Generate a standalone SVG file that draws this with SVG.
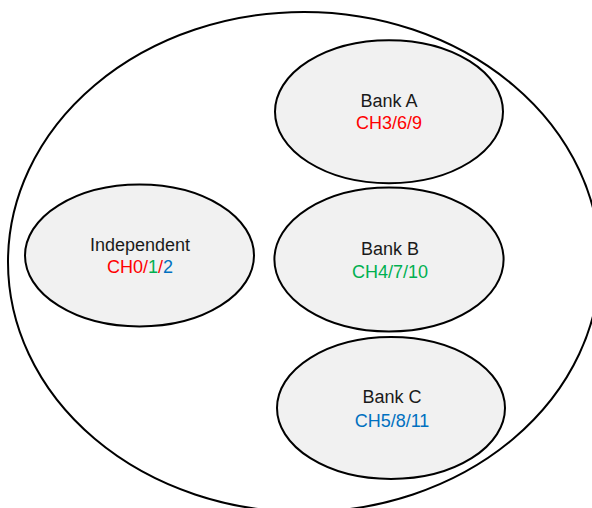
<svg xmlns="http://www.w3.org/2000/svg" width="592" height="508" viewBox="0 0 592 508">
<style>
.outer{fill:#ffffff;stroke:#000;stroke-width:2}
.node{fill:#f1f1f1;stroke:#000;stroke-width:2}
.t{font-family:"Liberation Sans",Arial,Helvetica,sans-serif;font-size:18px;text-anchor:middle;fill:#1a1a1a}
.r{fill:#ff0000}.g{fill:#00b050}.b{fill:#0070c0}
</style>
<rect width="592" height="508" fill="#ffffff"/>
<g id="group-all">
<ellipse class="outer" cx="304" cy="262" rx="296" ry="250"/>
</g>
<g id="independent">
<ellipse class="node" cx="139.5" cy="255.5" rx="114.5" ry="71"/>
<text class="t" x="140" y="251">Independent</text>
<text class="t" x="140" y="273"><tspan class="r">CH0/</tspan><tspan class="g">1</tspan><tspan class="r">/</tspan><tspan class="b">2</tspan></text>
</g>
<g id="bank-a">
<ellipse class="node" cx="389" cy="111.7" rx="114" ry="71.5"/>
<text class="t" x="389" y="107">Bank A</text>
<text class="t r" x="389" y="129">CH3/6/9</text>
</g>
<g id="bank-b">
<ellipse class="node" cx="389" cy="259.5" rx="114.6" ry="72"/>
<text class="t" x="390" y="255">Bank B</text>
<text class="t g" x="390" y="277.5">CH4/7/10</text>
</g>
<g id="bank-c">
<ellipse class="node" cx="391" cy="408" rx="114" ry="71"/>
<text class="t" x="392" y="403">Bank C</text>
<text class="t b" x="392" y="427">CH5/8/11</text>
</g>
<g id="connectors"></g>
</svg>
